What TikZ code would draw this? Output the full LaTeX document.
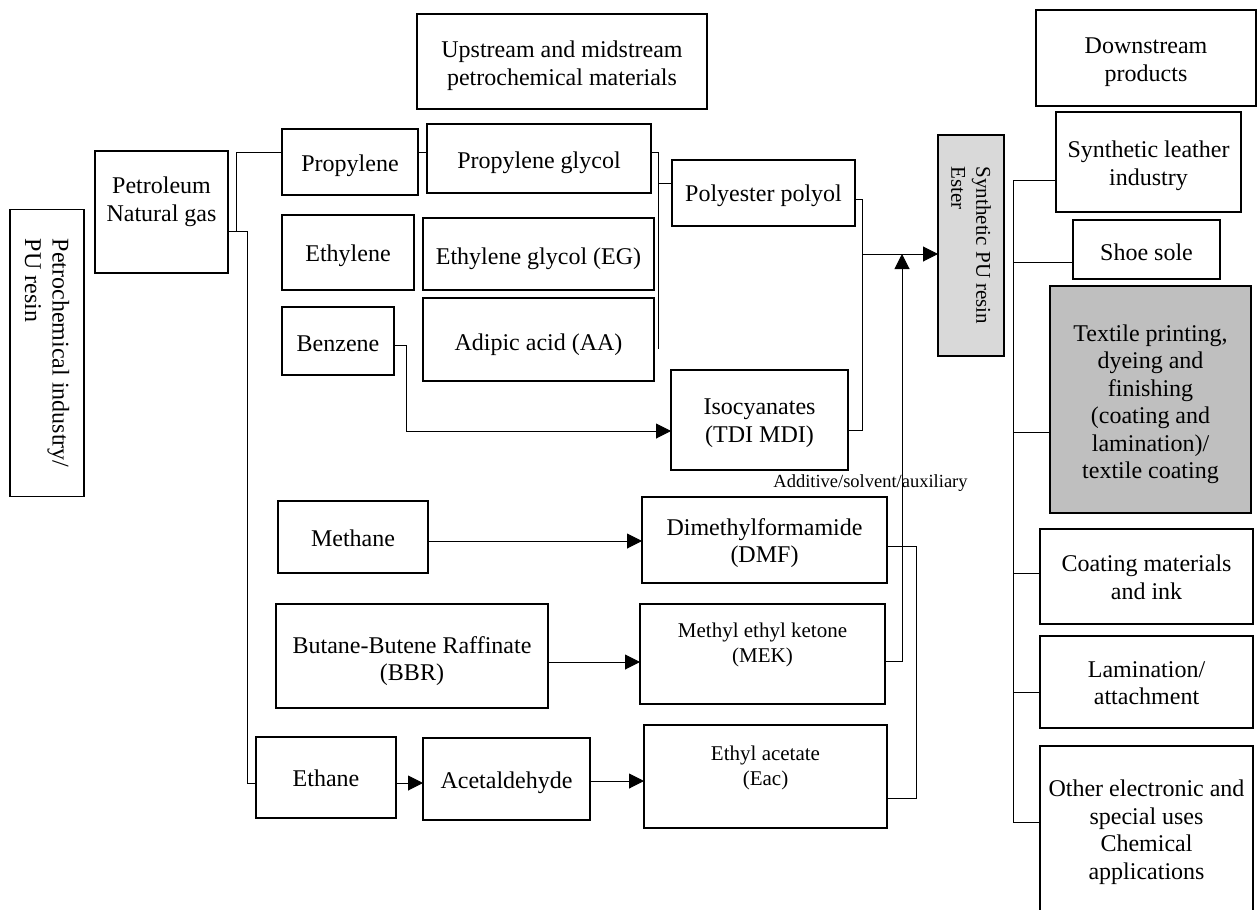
\documentclass[tikz,border=0pt]{standalone}
\usepackage{fontspec}
\setmainfont{Liberation Serif}
\usetikzlibrary{arrows.meta,calc}
% box: [box style]{name}{x1}{y1}{x2}{y2}{text shift down}{text}
\newcommand\bxn[8][]{%
  \node[box,minimum width={#5-#3},minimum height={#6-#4},#1] (#2) at ({(#3+#5)/2},{(#4+#6)/2}) {};
  \node[txt] (#2t) at ({(#3+#5)/2},{(#4+#6)/2+#7}) {#8};}
\begin{document}
\begin{tikzpicture}[x=1pt,y=-1pt,
  box/.style={draw=black,line width=1.1pt,inner sep=0pt,outer sep=0pt},
  txt/.style={inner sep=0pt,align=center,font=\fontsize{24}{27.5}\selectfont},
  smalltxt/.style={inner sep=0pt,align=center,font=\fontsize{21}{25}\selectfont},
  conn/.style={line width=1pt,draw=black},
  arr/.style={conn,-{Triangle[length=15pt,width=15pt]}},
  lightfill/.style={fill=black!15},
  darkfill/.style={fill=black!25}]
\useasboundingbox (0,0) rectangle (1258,910);
% left column
\node[box,rotate=-90,align=left,minimum width=287,minimum height=74,font=\fontsize{24}{27.5}\selectfont] (pi) at (47,353) {Petrochemical industry/\\PU resin};
\bxn{pet}{95}{151}{228}{273}{0}{}
\node[txt] (petT) at (161.5,202) {Petroleum\\Natural gas};
% headers
\bxn{up}{417}{14}{707}{109}{4}{Upstream and midstream\\petrochemical materials}
\bxn{down}{1036}{10}{1256}{106}{4}{Downstream\\products}
% first-level materials
\bxn{prop}{282}{129}{418}{195}{4}{Propylene}
\bxn{eth}{282}{215}{414}{290}{3}{Ethylene}
\bxn{ben}{282}{307}{394}{375}{3}{Benzene}
\bxn{pg}{427}{124}{651}{193}{4}{Propylene glycol}
\bxn{eg}{423}{218}{654}{290}{5}{Ethylene glycol (EG)}
\bxn{aa}{423}{298}{654}{381}{5}{Adipic acid (AA)}
\bxn{pp}{672}{160}{855}{226}{3}{Polyester polyol}
\bxn{iso}{671}{370}{848}{470}{3}{Isocyanates\\(TDI MDI)}
\node[box,lightfill,rotate=-90,align=left,minimum width=221,minimum height=66,font=\fontsize{21}{25}\selectfont] (pu) at (971,245.5) {Synthetic PU resin\\Ester};
% solvents
\bxn{meth}{278}{501}{428}{573}{1}{Methane}
\bxn{dmf}{642}{497}{887}{583}{3}{Dimethylformamide\\(DMF)}
\bxn{bbr}{276}{604}{548}{708}{5}{Butane-Butene Raffinate\\(BBR)}
\bxn{mek}{640}{604}{885}{704}{0}{}
\node[smalltxt] (mekT) at (762.5,644.5) {Methyl ethyl ketone\\(MEK)};
\bxn{etha}{256}{737}{396}{818}{1}{Ethane}
\bxn{acet}{423}{738}{590}{820}{4}{Acetaldehyde}
\bxn{eac}{644}{725}{887}{828}{0}{}
\node[smalltxt] (eacT) at (765.5,768) {Ethyl acetate\\(Eac)};
\node[inner sep=0pt,font=\fontsize{18.5}{22}\selectfont] (add) at (870.5,483) {Additive/solvent/auxiliary};
% downstream products
\bxn{sl}{1056}{112}{1241}{212}{4}{Synthetic leather\\industry}
\bxn{ss}{1073}{220}{1220}{279}{3}{Shoe sole}
\bxn[darkfill]{tx}{1050}{286}{1251}{513}{5}{Textile printing,\\dyeing and\\finishing\\(coating and\\lamination)/\\textile coating}
\bxn{cm}{1040}{529}{1253}{624}{1}{Coating materials\\and ink}
\bxn{lam}{1040}{636}{1253}{728}{1}{Lamination/\\attachment}
\bxn{oth}{1040}{746}{1253}{914}{2}{Other electronic and\\special uses\\Chemical\\applications}
% junction coordinates
\coordinate (jA) at (236,152);
\coordinate (jAb) at (236,231);
\coordinate (jB) at (247,231);
\coordinate (jC) at (247,783);
\coordinate (bt) at (658,152);
\coordinate (bm) at (658,183);
\coordinate (bb) at (658,349);
\coordinate (p1) at (862,199);
\coordinate (p3) at (862,254);
\coordinate (p2) at (862,430);
\coordinate (b1) at (406,345);
\coordinate (b2) at (406,431);
\coordinate (v1) at (902,661);
\coordinate (v2) at (902,254);
\coordinate (d1) at (916,546);
\coordinate (d2) at (916,798);
\coordinate (m1) at (430,541);
\coordinate (k1) at (550,662);
\coordinate (e1) at (400,783);
\coordinate (a1) at (592,781);
\coordinate (r1) at (1013,180);
\coordinate (r2) at (1013,262);
\coordinate (r3) at (1013,432);
\coordinate (r4) at (1013,573);
\coordinate (r5) at (1013,692);
\coordinate (r6) at (1013,822);
% connectors left
\draw[conn] (pet.east |- jB) -- (jB) -- (jC) -- (jC -| etha.west);
\draw[conn] (jAb) -- (jA) -- (jA -| prop.west);
\draw[conn] (prop.east |- jA) -- (pg.west |- jA);
\draw[conn] (pg.east |- bt) -- (bt) -- (bb);
\draw[conn] (bm) -- (bm -| pp.west);
\draw[conn] (pp.east |- p1) -- (p1) -- (p2) -- (p2 -| iso.east);
\draw[arr] (p3) -- (p3 -| pu.south);
\draw[arr] (ben.east |- b1) -- (b1) -- (b2) -- (b2 -| iso.west);
\draw[arr] (meth.east |- m1) -- (m1 -| dmf.west);
\draw[arr] (bbr.east |- k1) -- (k1 -| mek.west);
\draw[arr] (etha.east |- e1) -- (e1 -| acet.west);
\draw[arr] (acet.east |- a1) -- (a1 -| eac.west);
\draw[arr] (mek.east |- v1) -- (v1) -- (v2);
\draw[conn] (dmf.east |- d1) -- (d1) -- (d2) -- (d2 -| eac.east);
% downstream bus
\draw[conn] (r1) -- (r6);
\draw[conn] (r1) -- (r1 -| sl.west);
\draw[conn] (r2) -- (r2 -| ss.west);
\draw[conn] (r3) -- (r3 -| tx.west);
\draw[conn] (r4) -- (r4 -| cm.west);
\draw[conn] (r5) -- (r5 -| lam.west);
\draw[conn] (r6) -- (r6 -| oth.west);
\end{tikzpicture}
\end{document}
